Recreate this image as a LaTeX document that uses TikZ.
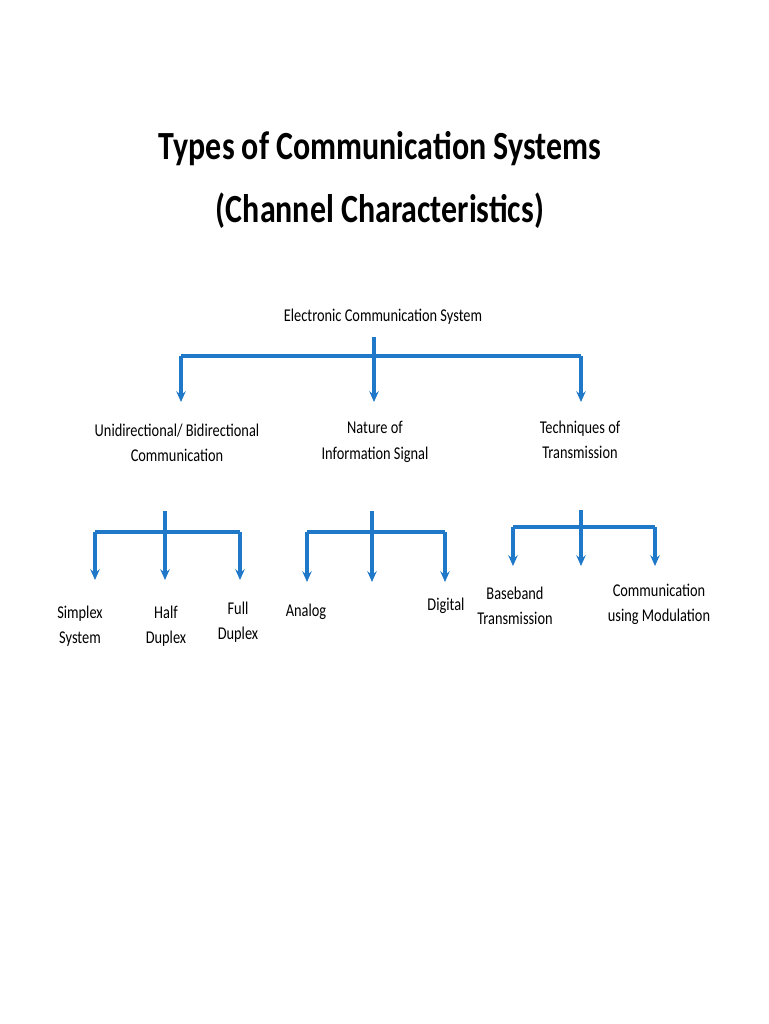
\documentclass[tikz,border=0pt]{standalone}
\usepackage{fontspec}
\setmainfont{Carlito}[FakeStretch=0.8]
\usetikzlibrary{arrows.meta}
\definecolor{linkblue}{RGB}{31,120,200}
\begin{document}
\begin{tikzpicture}[x=0.0264cm, y=-0.0264cm, >={Stealth[length=8pt,width=7pt]}, semithick,
    wire/.style={draw=linkblue, line width=2.4pt},
    feed/.style={wire, ->, shorten >=0pt},
    label/.style={font=\fontsize{13.5}{19}\selectfont, align=center, inner sep=1pt},
    title/.style={font=\bfseries\fontsize{30}{48}\selectfont, align=center}]
  \useasboundingbox (0,0) rectangle (768,1024);

  \node[title] (head) at (380,180) {Types of Communication Systems\\(Channel Characteristics)};

  % top level
  \node[label] (ecs) at (383,317) {Electronic Communication System};
  \coordinate (j0) at (374,356);
  \coordinate (a1) at (181,402);
  \coordinate (a2) at (374,402);
  \coordinate (a3) at (581,402);
  \node[label] (dir) at (177,443) {Unidirectional/ Bidirectional\\Communication};
  \node[label] (nat) at (375,442) {Nature of\\Information Signal};
  \node[label] (tec) at (580,440) {Techniques of\\Transmission};
  \draw[wire] (374,337) -- (j0);
  \draw[wire] (181,356) -- (581,356);
  \draw[feed] (181,356) -- (a1);
  \draw[feed] (j0) -- (a2);
  \draw[feed] (581,356) -- (a3);

  % first group
  \coordinate (j1) at (165,532);
  \draw[wire] (165,511) -- (j1);
  \draw[wire] (95,532) -- (240,532);
  \draw[feed] (95,532) -- (95,580);
  \draw[feed] (j1) -- (165,580);
  \draw[feed] (240,532) -- (240,580);
  \node[label] (smp) at (80,626) {Simplex\\System};
  \node[label] (hlf) at (166,626) {Half\\Duplex};
  \node[label] (ful) at (238,622) {Full\\Duplex};

  % second group
  \coordinate (j2) at (372,532);
  \draw[wire] (372,511) -- (j2);
  \draw[wire] (307,532) -- (445,532);
  \draw[feed] (307,532) -- (307,582);
  \draw[feed] (j2) -- (372,582);
  \draw[feed] (445,532) -- (445,582);
  \node[label] (ana) at (306,612) {Analog};
  \node[label] (dig) at (446,606) {Digital};

  % third group
  \coordinate (j3) at (581,527);
  \draw[wire] (581,510) -- (j3);
  \draw[wire, line width=3.2pt] (513,527) -- (655,527);
  \draw[feed] (513,527) -- (513,566);
  \draw[feed] (j3) -- (581,566);
  \draw[feed] (655,527) -- (655,566);
  \node[label] (bsb) at (515,606) {Baseband\\Transmission};
  \node[label] (mod) at (659,604) {Communication\\using Modulation};
\end{tikzpicture}
\end{document}
